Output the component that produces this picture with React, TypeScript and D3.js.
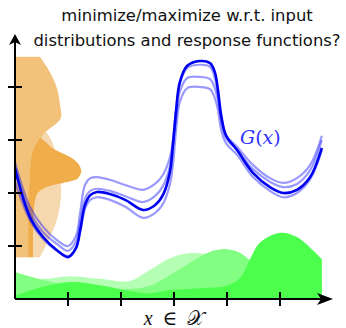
import React from "react";
import * as d3 from "d3";

const W = 346;
const H = 328;

const titleLines = ["minimize/maximize w.r.t. input", "distributions and response functions?"];
const xTicks = [1, 2, 3, 4, 5];
const yTicks = [1, 2, 3, 4];

// response function G(x) and three perturbed versions
const gX = [0, 0.28, 0.53, 0.79, 1.0, 1.15, 1.23, 1.32, 1.42, 1.55, 1.79, 2.08, 2.42, 2.64, 2.79, 2.92, 2.98, 3.04, 3.11, 3.25, 3.49, 3.68, 3.77, 3.83, 3.89, 3.98, 4.19, 4.49, 4.81, 5.06, 5.32, 5.57, 5.79];
const gDark = [2.47, 1.55, 1.17, 0.92, 0.79, 0.96, 1.3, 1.77, 1.96, 2.02, 1.98, 1.87, 1.68, 1.77, 1.96, 2.38, 2.91, 3.57, 4.09, 4.4, 4.49, 4.45, 4.28, 3.94, 3.47, 3.09, 2.81, 2.38, 2.11, 2.0, 2.06, 2.3, 2.85];
const gLight1 = [2.58, 1.74, 1.36, 1.11, 1.0, 1.19, 1.64, 2.15, 2.28, 2.3, 2.25, 2.15, 2.06, 2.17, 2.34, 2.66, 3.0, 3.57, 4.06, 4.36, 4.42, 4.38, 4.17, 3.85, 3.42, 3.09, 2.87, 2.53, 2.28, 2.19, 2.28, 2.53, 3.08];
const gLight2 = [2.4, 1.64, 1.26, 1.04, 0.91, 1.08, 1.45, 1.89, 2.04, 2.08, 2.04, 1.94, 1.83, 1.94, 2.13, 2.49, 2.91, 3.42, 3.91, 4.17, 4.19, 4.15, 3.98, 3.75, 3.36, 3.04, 2.81, 2.45, 2.21, 2.11, 2.17, 2.43, 3.0];
const gLight3 = [2.21, 1.49, 1.13, 0.91, 0.81, 0.96, 1.26, 1.7, 1.87, 1.92, 1.87, 1.74, 1.53, 1.62, 1.79, 2.15, 2.53, 3.19, 3.72, 3.98, 4.0, 3.96, 3.79, 3.57, 3.19, 2.94, 2.72, 2.3, 2.04, 1.92, 2.0, 2.26, 2.81];

// input distributions over x (green)
const greenX = [0, 0.53, 1.04, 1.6, 2.17, 2.55, 2.92, 3.3, 3.68, 4.0, 4.25, 4.43, 4.62, 5.0, 5.32, 5.62, 5.79];
const greenLight = [0.4, 0.38, 0.43, 0.38, 0.34, 0.55, 0.77, 0.87, 0.83, 0.75, 0.68, 0.62, 0.58, 0.51, 0.43, 0.38, 0.36];
const greenMid = [0.51, 0.36, 0.26, 0.21, 0.19, 0.25, 0.45, 0.68, 0.89, 0.94, 0.87, 0.74, 0.64, 0.51, 0.4, 0.32, 0.28];
const greenDark = [0.06, 0.23, 0.32, 0.26, 0.15, 0.11, 0.17, 0.19, 0.21, 0.25, 0.4, 0.74, 1.06, 1.25, 1.17, 0.92, 0.75];

// output distributions along y (orange)
const orangeLightY = [3.38, 3.28, 3.13, 2.96, 2.72, 2.43, 2.06, 1.77, 1.49, 1.21, 0.98, 0.79];
const orangeLightRight = [0.28, 0.47, 0.6, 0.7, 0.77, 0.83, 0.87, 0.85, 0.79, 0.68, 0.57, 0.47];
const orangeMidY = [4.57, 4.28, 3.98, 3.66, 3.43, 3.32, 3.19, 3.08, 2.94, 2.72, 2.34, 1.87, 1.3, 0.79];
const orangeMidRight = [0.47, 0.66, 0.79, 0.85, 0.87, 0.79, 0.62, 0.51, 0.45, 0.4, 0.34, 0.28, 0.26, 0.25];
const orangeStrongY = [3.04, 2.96, 2.85, 2.72, 2.6, 2.49, 2.4, 2.28, 2.23, 2.19, 2.15, 2.09, 2.0, 1.87, 1.58, 1.11, 0.79];
const orangeStrongLeft = [0.47, 0.42, 0.36, 0.32, 0.3, 0.29, 0.28, 0.28, 0.28, 0.28, 0.27, 0.27, 0.26, 0.26, 0.25, 0.25, 0.25];
const orangeStrongRight = [0.49, 0.58, 0.7, 0.96, 1.15, 1.23, 1.25, 1.19, 1.08, 0.91, 0.72, 0.55, 0.43, 0.38, 0.35, 0.34, 0.34];

export default function App() {
  const x = d3.scaleLinear().domain([0, 6]).range([15, 333]);
  const y = d3.scaleLinear().domain([0, 5]).range([299, 34]);

  const line = d3
    .line<[number, number]>()
    .x((d) => x(d[0]))
    .y((d) => y(d[1]))
    .curve(d3.curveCatmullRom.alpha(0.5));
  const pts = (ys: number[]) => gX.map((v, i) => [v, ys[i]] as [number, number]);

  const greenArea = d3
    .area<[number, number]>()
    .x((d) => x(d[0]))
    .y0(y(0))
    .y1((d) => y(d[1]))
    .curve(d3.curveCatmullRom.alpha(0.5));
  const gpts = (ys: number[]) => greenX.map((v, i) => [v, ys[i]] as [number, number]);

  const vArea = d3
    .area<[number, number, number]>()
    .y((d) => y(d[0]))
    .x0((d) => x(d[1]))
    .x1((d) => x(d[2]))
    .curve(d3.curveCatmullRom.alpha(0.5));
  const opts = (ys: number[], ls: number[] | null, rs: number[]) =>
    ys.map((v, i) => [v, ls ? ls[i] : 0, rs[i]] as [number, number, number]);

  const x0 = x(0), y0 = y(0), xEnd = x(6), yEnd = y(5);

  return (
    <div style={{ position: "fixed", left: 0, top: 0 }}>
      <svg width={W} height={H} style={{ display: "block", background: "#fff" }}>
        {/* title */}
        <g fontFamily="'DejaVu Sans', sans-serif" fontSize={16.4} fill="#111" textAnchor="middle">
          {titleLines.map((t, i) => (
            <text key={i} x={187} y={21 + i * 25}>
              {t}
            </text>
          ))}
        </g>

        {/* green input distributions */}
        <path d={greenArea(gpts(greenLight)) || ""} fill="#b5ffb5" />
        <path d={greenArea(gpts(greenMid)) || ""} fill="#82ff82" />
        <path d={greenArea(gpts(greenDark)) || ""} fill="#4dff4d" />

        {/* orange output distributions */}
        <path d={vArea(opts(orangeLightY, null, orangeLightRight)) || ""} fill="#f5d8ae" />
        <path d={vArea(opts(orangeMidY, null, orangeMidRight)) || ""} fill="#f2c27b" />
        <path d={vArea(opts(orangeStrongY, orangeStrongLeft, orangeStrongRight)) || ""} fill="#f2ad4b" />

        {/* response curves */}
        {[gLight1, gLight2, gLight3].map((ys, i) => (
          <path key={i} d={line(pts(ys)) || ""} fill="none" stroke="#0000ff" strokeOpacity={0.4} strokeWidth={2.2} />
        ))}
        <path d={line(pts(gDark)) || ""} fill="none" stroke="#0000f0" strokeWidth={2.6} />

        <text x={240} y={144} fill="#3030ff" fontFamily="'DejaVu Serif', serif" fontSize={19}>
          <tspan fontStyle="italic">G</tspan>(<tspan fontStyle="italic">x</tspan>)
        </text>

        {/* axes */}
        <g stroke="#000" strokeWidth={2}>
          <line x1={x0} y1={y0} x2={xEnd - 6} y2={y0} />
          <line x1={x0} y1={y0} x2={x0} y2={yEnd + 6} />
          {xTicks.map((t) => (
            <line key={t} x1={x(t)} x2={x(t)} y1={y0 - 7} y2={y0 + 7} />
          ))}
          {yTicks.map((t) => (
            <line key={t} x1={x0 - 7} x2={x0 + 7} y1={y(t)} y2={y(t)} />
          ))}
        </g>
        <path
          d={`M${xEnd},${y0} L${xEnd - 16},${y0 - 6} L${xEnd - 12},${y0} L${xEnd - 16},${y0 + 6} Z`}
          fill="#000"
        />
        <path
          d={`M${x0},${yEnd} L${x0 - 6},${yEnd + 11} L${x0},${yEnd + 8} L${x0 + 6},${yEnd + 11} Z`}
          fill="#000"
        />

        <text x={174} y={325} fontFamily="'Liberation Serif', 'DejaVu Serif', serif" fontSize={20} fill="#111" textAnchor="middle">
          <tspan fontStyle="italic">x</tspan>{"\u2002∈\u2002"}𝒳
        </text>
      </svg>
    </div>
  );
}
